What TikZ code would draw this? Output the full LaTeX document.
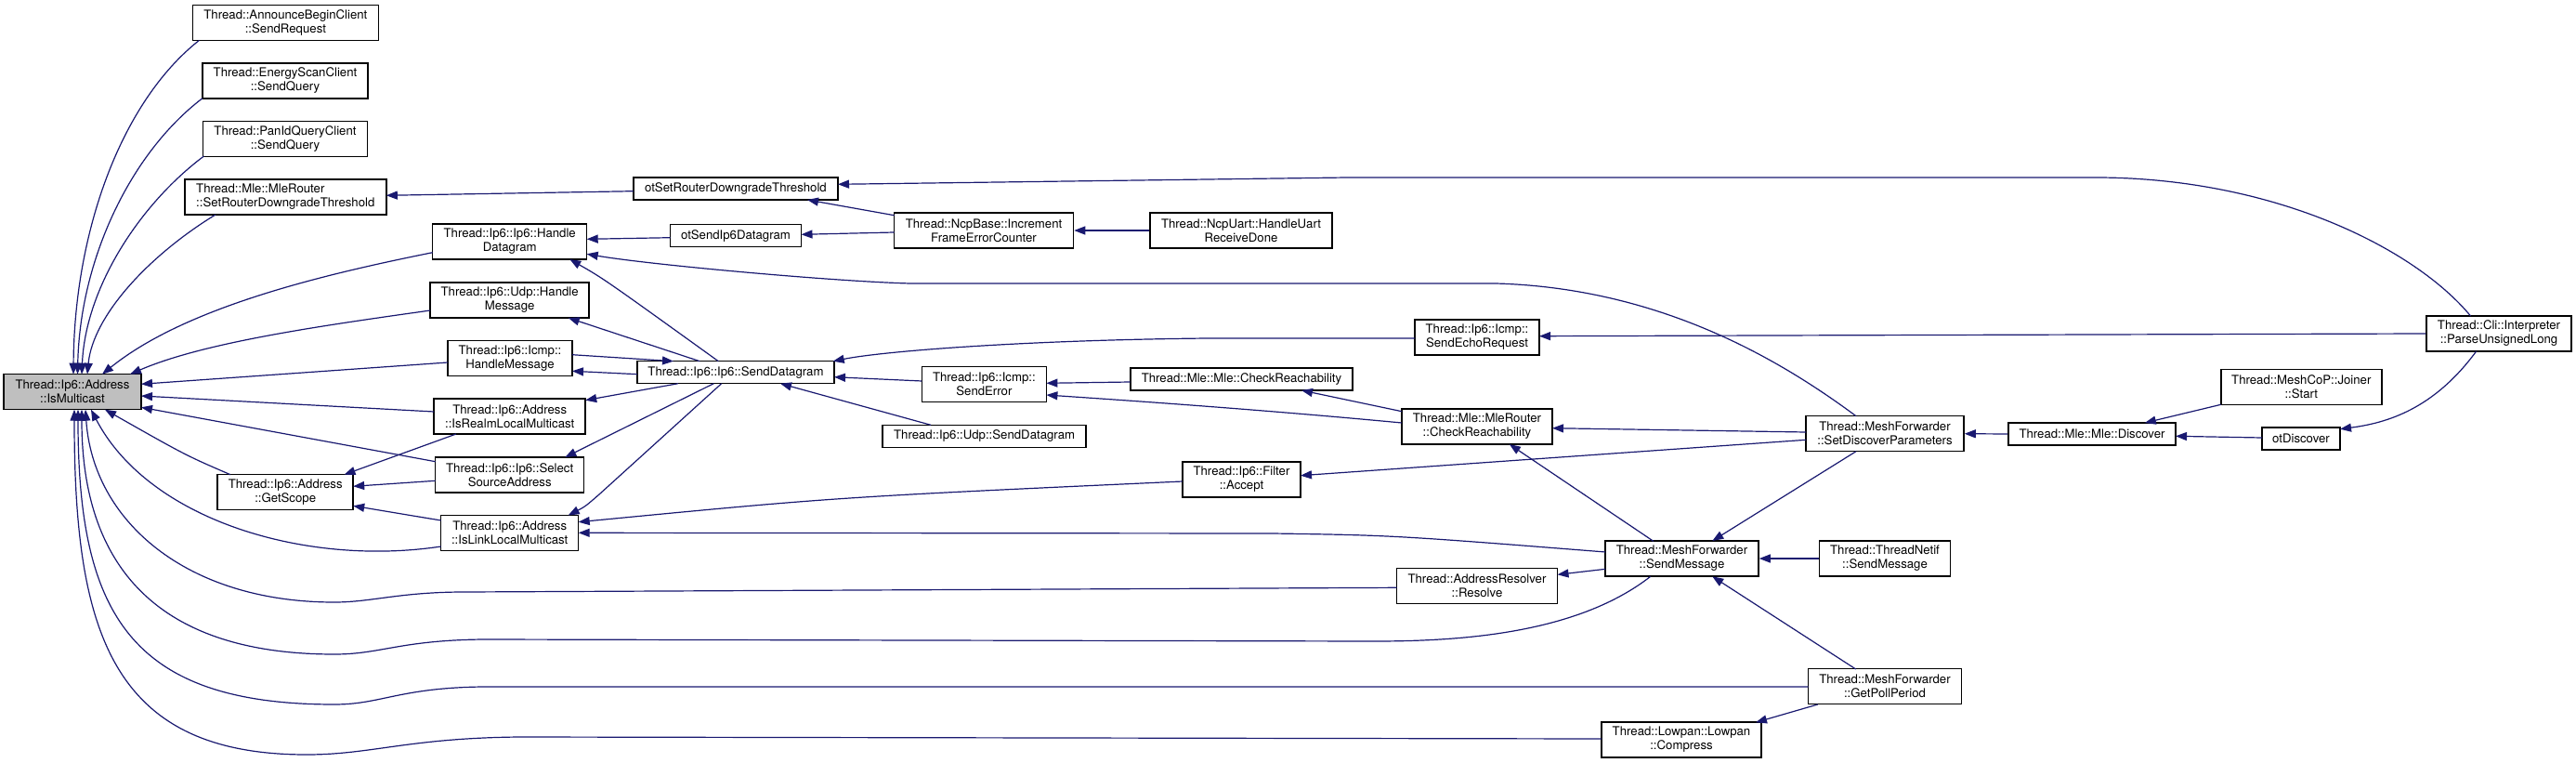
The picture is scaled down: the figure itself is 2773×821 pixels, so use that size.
\documentclass[tikz,border=0pt]{standalone}
\usepackage{fontspec}
\setmainfont{TeX Gyre Heros}
\usepackage{tikz}
\usetikzlibrary{arrows.meta,calc}
\definecolor{midblue}{RGB}{25,25,112}
\tikzset{
  fn/.style={draw=black,fill=white,line width=1.5pt,align=center,inner xsep=2pt,inner ysep=0pt,minimum height=38pt,font={\fontsize{13.2}{15}\selectfont}},
  fnone/.style={fn,minimum height=24pt},
  fncur/.style={fn,fill=gray!50},
  call/.style={midblue,line width=1.2pt,-{Triangle[length=12pt,width=9pt]}}
}

\begin{document}
\begin{tikzpicture}[x=1pt,y=-1pt]
\useasboundingbox (0,0) rectangle (2773,821);
% functions
\node[fncur,minimum width=148pt] (ismc) at (78,421.7) {Thread::Ip6::Address\\::IsMulticast};
\node[fn,minimum width=200pt] (annc) at (307.4,24.4) {Thread::AnnounceBeginClient\\::SendRequest};
\node[fn,minimum width=178pt] (enscan) at (307,87) {Thread::EnergyScanClient\\::SendQuery};
\node[fn,minimum width=177pt] (panid) at (307,149.5) {Thread::PanIdQueryClient\\::SendQuery};
\node[fn,minimum width=217pt,align=left] (mlrsrdt) at (307.3,212) {Thread::Mle::MleRouter\\::SetRouterDowngradeThreshold};
\node[fn,minimum width=166pt] (hdgram) at (548.7,260) {Thread::Ip6::Ip6::Handle\\Datagram};
\node[fn,minimum width=171pt] (udphm) at (548.7,323) {Thread::Ip6::Udp::Handle\\Message};
\node[fn,minimum width=134pt] (icmphm) at (549,385.5) {Thread::Ip6::Icmp::\\HandleMessage};
\node[fn,minimum width=163pt] (isrlm) at (548.7,448) {Thread::Ip6::Address\\::IsRealmLocalMulticast};
\node[fn,minimum width=160pt] (selsrc) at (548.7,511) {Thread::Ip6::Ip6::Select\\SourceAddress};
\node[fn,minimum width=146pt] (getscope) at (307.2,529.7) {Thread::Ip6::Address\\::GetScope};
\node[fn,minimum width=148pt] (isllm) at (548.7,573.5) {Thread::Ip6::Address\\::IsLinkLocalMulticast};
\node[fnone,minimum width=220pt] (otsrdt) at (792,203) {otSetRouterDowngradeThreshold};
\node[fnone,minimum width=141pt] (otsend) at (792,253.7) {otSendIp6Datagram};
\node[fnone,minimum width=212pt] (ip6send) at (792,400.7) {Thread::Ip6::Ip6::SendDatagram};
\node[fn,minimum width=193pt] (ncpinc) at (1059,248) {Thread::NcpBase::Increment\\FrameErrorCounter};
\node[fn,minimum width=196pt] (ncpuart) at (1336,248) {Thread::NcpUart::HandleUart\\ReceiveDone};
\node[fn,minimum width=134pt] (senderr) at (1059.4,413.3) {Thread::Ip6::Icmp::\\SendError};
\node[fnone,minimum width=219pt] (udpsend) at (1059.6,469.3) {Thread::Ip6::Udp::SendDatagram};
\node[fn,minimum width=134pt] (echoreq) at (1590,363) {Thread::Ip6::Icmp::\\SendEchoRequest};
\node[fnone,minimum width=239pt] (mlecr) at (1336.5,408) {Thread::Mle::Mle::CheckReachability};
\node[fn,minimum width=162pt] (mlrcr) at (1590,459) {Thread::Mle::MleRouter\\::CheckReachability};
\node[fn,minimum width=127pt] (filter) at (1336.5,516) {Thread::Ip6::Filter\\::Accept};
\node[fn,minimum width=173pt] (resolve) at (1590,630.7) {Thread::AddressResolver\\::Resolve};
\node[fn,minimum width=165pt] (mfsend) at (1810.5,601) {Thread::MeshForwarder\\::SendMessage};
\node[fn,minimum width=172pt] (compress) at (1810,796) {Thread::Lowpan::Lowpan\\::Compress};
\node[fn,minimum width=170pt] (setdisc) at (2029,466.7) {Thread::MeshForwarder\\::SetDiscoverParameters};
\node[fn,minimum width=141pt] (netifsend) at (2029,601) {Thread::ThreadNetif\\::SendMessage};
\node[fn,minimum width=165pt] (pollper) at (2029,738.7) {Thread::MeshForwarder\\::GetPollPeriod};
\node[fnone,minimum width=180pt] (discover) at (2252,467) {Thread::Mle::Mle::Discover};
\node[fn,minimum width=173pt] (joiner) at (2477.3,416.3) {Thread::MeshCoP::Joiner\\::Start};
\node[fnone,minimum width=84pt] (otdisc) at (2477,472.2) {otDiscover};
\node[fn,minimum width=156pt] (parse) at (2690,359) {Thread::Cli::Interpreter\\::ParseUnsignedLong};
% callers of IsMulticast
\draw[call] ($(annc)+(-93,19)$) .. controls (130,110) and (80,250) .. ($(ismc)+(1,-19)$);
\draw[call] ($(enscan)+(-89,18.7)$) .. controls (140,165) and (86,280) .. ($(ismc)+(5.5,-19)$);
\draw[call] ($(panid)+(-87.5,18.5)$) .. controls (150,220) and (92,310) .. ($(ismc)+(10,-19)$);
\draw[call] ($(mlrsrdt)+(-75.3,19)$) .. controls (160,275) and (100,340) .. ($(ismc)+(16,-19)$);
\draw[call] ($(hdgram)+(-83,11.7)$) .. controls (350,295) and (200,330) .. ($(ismc)+(32,-19)$);
\draw[call] ($(udphm)+(-85.5,11)$) .. controls (350,350) and (220,368) .. ($(ismc)+(62,-19)$);
\draw[call] ($(icmphm)+(-67,4.5)$) -- ($(ismc)+(74,-8.4)$);
\draw[call] ($(isrlm)+(-81.5,-5)$) -- ($(ismc)+(74,4.3)$);
\draw[call] ($(selsrc)+(-80,-14.3)$) -- ($(ismc)+(74,16.6)$);
\draw[call] ($(getscope)+(-59.2,-19)$) .. controls (200,490) .. ($(ismc)+(35,19)$);
\draw[call] ($(isllm)+(-74,14.5)$) .. controls (330,610) and (160,560) .. ($(ismc)+(20,19)$);
\draw[call] ($(resolve)+(-86.5,1.6)$) -- (500,637) .. controls (430,637) and (400,648) .. (360,648) .. controls (200,648) and (100,560) .. ($(ismc)+(14,19)$);
\draw[call] ($(mfsend)+(-33.8,19.3)$) .. controls (1700,680) and (1580,690) .. (1480,690) -- (520,688) .. controls (430,689) and (410,704) .. (360,704) .. controls (170,704) and (88,610) .. ($(ismc)+(10,19)$);
\draw[call] ($(pollper)+(-82.3,0.3)$) -- (520,739) .. controls (430,740) and (410,758) .. (360,758) .. controls (140,758) and (84,660) .. ($(ismc)+(6,19)$);
\draw[call] ($(compress)+(-85.7,-1)$) -- (560,793) .. controls (440,794) and (400,812) .. (330,812) .. controls (120,812) and (80,680) .. ($(ismc)+(2,19)$);
% SendDatagram
\draw[call] ($(ip6send)+(-18.7,-12)$) .. controls (650,300) .. ($(hdgram)+(64.6,19)$);
\draw[call] ($(ip6send)+(-38.7,-12)$) -- ($(udphm)+(63,19)$);
\draw[call] ($(icmphm)+(67,-3.8)$) -- ($(ip6send)+(-67,-12)$);
\draw[call] ($(ip6send)+(-106,2)$) -- ($(icmphm)+(67,13.8)$);
\draw[call] ($(ip6send)+(-62,12)$) -- ($(isrlm)+(81.5,-17.3)$);
\draw[call] ($(ip6send)+(-23.7,12)$) -- ($(selsrc)+(59.6,-19)$);
\draw[call] ($(ip6send)+(-15.3,12)$) -- (645,532) .. controls (630,545) .. ($(isllm)+(63,-19)$);
\draw[call] ($(echoreq)+(-67,1)$) -- (1300,364) .. controls (1100,366) and (950,378) .. ($(ip6send)+(104.7,-12)$);
\draw[call] ($(senderr)+(-67,-3.3)$) -- ($(ip6send)+(106,5)$);
\draw[call] ($(udpsend)+(-57.6,-12)$) -- ($(ip6send)+(48,12)$);
% GetScope
\draw[call] ($(isrlm)+(-57.7,19)$) -- ($(getscope)+(63.3,-19)$);
\draw[call] ($(selsrc)+(-80,6.3)$) -- ($(getscope)+(73,-6.4)$);
\draw[call] ($(isllm)+(-74,-13.5)$) -- ($(getscope)+(73,14.6)$);
% upper part
\draw[call] ($(otsend)+(-70.5,2)$) -- ($(hdgram)+(83,-2.7)$);
\draw[call] ($(setdisc)+(-31,-19)$) .. controls (1920,390) and (1790,310) .. (1610,305) -- (980,305) .. controls (900,303) and (700,285) .. ($(hdgram)+(83,13.3)$);
\draw[call] ($(otsrdt)+(-110,2.7)$) -- ($(mlrsrdt)+(108.5,-1.7)$);
\draw[call] ($(parse)+(-30.5,-19)$) .. controls (2600,268) and (2450,192) .. (2259,191) -- (1450,191) -- ($(otsrdt)+(110,-4.7)$);
\draw[call] ($(ncpinc)+(-96.5,-16.3)$) -- ($(otsrdt)+(77,12)$);
\draw[call] ($(ncpinc)+(-96.5,2)$) -- ($(otsend)+(70.5,-1.4)$);
\draw[call] (parse.west) -- ($(echoreq)+(67,-1.3)$);
% reachability, filter, mesh forwarder
\draw[call] ($(mlecr)+(-119.5,3)$) -- ($(senderr)+(67,-1)$);
\draw[call] ($(mlrcr)+(-81,-4)$) .. controls (1350,440) and (1200,430) .. ($(senderr)+(67,11.7)$);
\draw[call] ($(mlrcr)+(-81,-16.3)$) -- ($(mlecr)+(64.5,12)$);
\draw[call] ($(setdisc)+(-85,-1.7)$) -- ($(mlrcr)+(81,1.7)$);
\draw[call] ($(setdisc)+(-85,6.6)$) -- ($(filter)+(63.5,-4.3)$);
\draw[call] ($(mfsend)+(-30.7,-18.7)$) -- ($(mlrcr)+(34.8,19)$);
\draw[call] ($(setdisc)+(-31,19)$) -- ($(mfsend)+(32.8,-19)$);
\draw[call] ($(pollper)+(-31.3,-18.7)$) -- ($(mfsend)+(32.8,19.3)$);
\draw[call] ($(mfsend)+(-82.2,11.3)$) -- ($(resolve)+(86.5,-12.4)$);
\draw[call] ($(mfsend)+(-82.2,-7)$) .. controls (1500,576) .. (1370,574) -- ($(isllm)+(74,-0.2)$);
\draw[call] ($(filter)+(-63.5,2)$) .. controls (900,535) .. ($(isllm)+(74,-11.8)$);
\draw[call] ($(pollper)+(-72.3,19.3)$) -- ($(compress)+(80,-18.7)$);
% discover
\foreach \s/\t in {ncpuart.west/ncpinc.east,netifsend.west/mfsend.east,discover.west/setdisc.east}{\draw[call] (\s) -- (\t);}
\draw[call] ($(joiner)+(-86.5,19)$) -- ($(discover)+(56.8,-12)$);
\draw[call] ($(otdisc)+(-42,-1.2)$) -- ($(discover)+(90,2.3)$);
\draw[call] ($(parse)+(-24.4,19)$) .. controls (2620,440) and (2570,455) .. ($(otdisc)+(42,-10.5)$);
\end{tikzpicture}
\end{document}
